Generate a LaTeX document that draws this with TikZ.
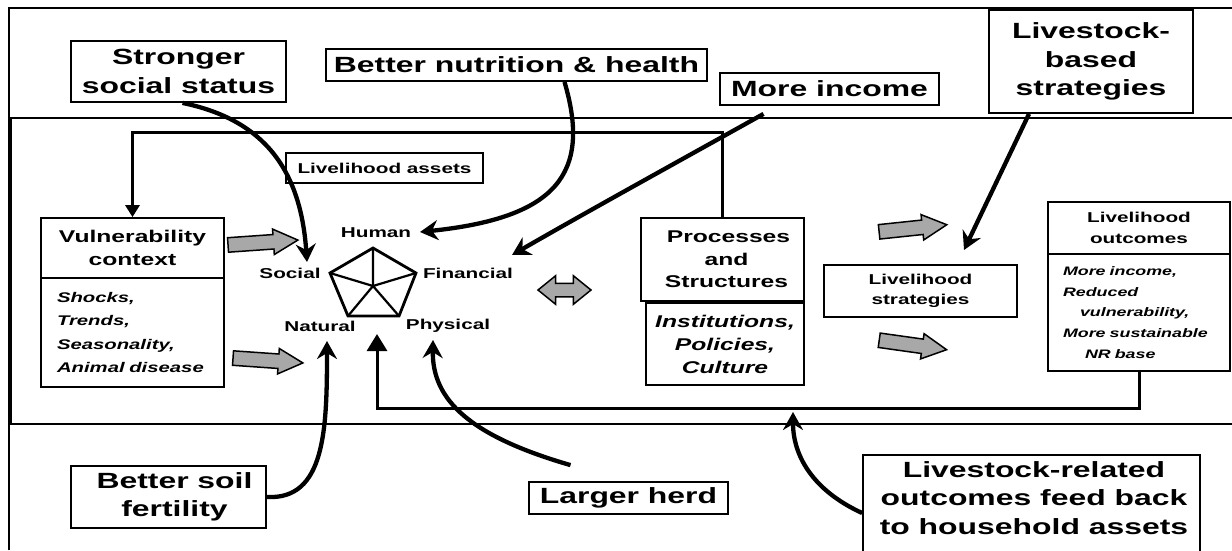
\documentclass[tikz,border=0pt]{standalone}
\usepackage{fontspec}
\setmainfont{Liberation Sans}[FakeStretch=1.45]
\usetikzlibrary{arrows.meta,shapes.arrows}
\definecolor{blockgray}{HTML}{A8A8A8}
\tikzset{
  fbig/.style={font=\fontsize{22}{28.5}\selectfont\bfseries},
  fmed/.style={font=\fontsize{17}{22.5}\selectfont\bfseries},
  fsml/.style={font=\fontsize{14.3}{20.5}\selectfont\bfseries},
  box/.style={draw, line width=1.8pt, inner sep=0pt, align=center},
  lbl/.style={inner sep=0pt, fsml},
  curvearrow/.style={line width=4.3pt, -{Stealth[length=18pt,width=20pt,inset=6pt]}},
  looparrow/.style={line width=3pt, -{Triangle[length=12pt,width=14pt]}},
  feedarrow/.style={line width=3pt, -{Triangle[length=17pt,width=20pt]}},
  blockarrow/.style={single arrow, draw, line width=1.5pt, fill=blockgray, inner sep=6.5pt, minimum width=24pt, single arrow head extend=5.5pt, single arrow tip angle=55, minimum height=70pt},
  dblarrow/.style={double arrow, draw, line width=1.5pt, fill=blockgray, inner sep=6pt, minimum width=27pt, double arrow head extend=7.5pt, double arrow tip angle=78, minimum height=53pt},
  frame/.style={line width=1.5pt},
}
\begin{document}
\begin{tikzpicture}[x=1pt,y=-1pt]
\useasboundingbox (0,0) rectangle (1232,550);
\clip (0,0) rectangle (1232,550);
\fill[white] (0,0) rectangle (1232,550);
% frame
\draw[frame] (9,550) -- (9,8) -- (1240,8);
\draw[frame] (9,118) -- (1240,118);
\draw[line width=2.2pt] (11,118) -- (11,424) -- (1240,424);
\draw[frame] (9,424) -- (11,424);

% top boxes
\node[box, fbig, minimum width=215pt, minimum height=61pt] (ss) at (178.5,71.5) {Stronger\\social status};
\node[box, fbig, minimum width=381pt, minimum height=32pt] (nh) at (516.5,65) {Better nutrition \& health};
\node[box, fbig, minimum width=219pt, minimum height=32pt] (mi) at (829.5,89) {More income};
\node[box, fbig, minimum width=204pt, minimum height=103pt] (lbs) at (1091,61.5) {Livestock-\\based\\strategies};

% middle
\node[box, fsml, minimum width=197pt, minimum height=30pt] (la) at (384.5,168) {Livelihood assets};
\node[box, fmed, minimum width=183pt, minimum height=60pt] (vch) at (132.5,248) {Vulnerability\\context};
\node[box, font=\fontsize{14}{23.5}\selectfont\bfseries\itshape, minimum width=183pt, minimum height=109pt, text width=151pt, align=left] (vcb) at (132.5,332.5) {Shocks,\\Trends,\\Seasonality,\\Animal disease};
\node[box, fmed, minimum width=163pt, minimum height=83pt] (ps) at (722.5,259.5) {\hspace*{12pt}Processes\\\hspace*{8pt}and\\\hspace*{8pt}Structures};
\node[box, font=\fontsize{17}{23}\selectfont\bfseries\itshape, minimum width=158pt, minimum height=82pt] (ipc) at (725,344) {Institutions,\\Policies,\\Culture};
\node[box, fsml, minimum width=193pt, minimum height=52pt] (ls) at (920.5,291) {Livelihood\\strategies};
\node[box, fsml, minimum width=182pt, minimum height=52pt] (loh) at (1139,228) {Livelihood\\outcomes};
\node[box, font=\fontsize{12.3}{20.7}\selectfont\bfseries\itshape, minimum width=182pt, minimum height=117pt, text width=152pt, align=left] (lob) at (1139,312.5) {More income,\\Reduced\\\hspace*{17pt}vulnerability,\\More sustainable\\\hspace*{22pt}NR base};

% bottom boxes
\node[box, fbig, minimum width=195pt, minimum height=62pt] (bsf) at (168.5,497) {\hspace*{12pt}Better soil\\\hspace*{12pt}fertility};
\node[box, fbig, minimum width=199pt, minimum height=32pt] (lh) at (628.5,498) {Larger herd};
\node[box, minimum width=337pt, minimum height=140pt, anchor=north] (lro) at (1031.5,454) {};
\node[fbig, inner sep=0pt, align=center, anchor=north] (lrot) at (1034,461) {Livestock-related\\outcomes feed back\\to household assets};

% asset labels
\node[lbl] (human) at (376,233) {Human};
\node[lbl] (social) at (290,273) {Social};
\node[lbl] (financial) at (468,273) {Financial};
\node[lbl] (natural) at (320,326) {Natural};
\node[lbl] (physical) at (448,326) {Physical};

% pentagon
\coordinate (p1) at (373,248);
\coordinate (p2) at (416,273);
\coordinate (p3) at (399,316);
\coordinate (p4) at (348,316);
\coordinate (p5) at (330,273);
\coordinate (pc) at (373,286);
\draw[line width=2.8pt, line join=miter] (p1) -- (p2) -- (p3) -- (p4) -- (p5) -- cycle;
\draw[line width=2.2pt] (pc) -- (p1) (pc) -- (p2) (pc) -- (p3) (pc) -- (p4) (pc) -- (p5);

% block arrows
\node[blockarrow, rotate=4] (ba1) at (256,243) {};
\node[blockarrow, rotate=-4] (ba2) at (261,360) {};
\node[blockarrow, rotate=6, minimum height=68pt] (ba3) at (906,229) {};
\node[blockarrow, rotate=-8, minimum height=68pt] (ba4) at (906,344) {};
\node[dblarrow] (dba) at (564.5,290) {};

% targets
\coordinate (tSocial) at (307,262);
\coordinate (tHuman) at (420,232);
\coordinate (tFin) at (512,255);
\coordinate (tStrat) at (964,250);
\coordinate (tNat) at (327,341);
\coordinate (tPhys) at (433,340);
\coordinate (tAssets) at (377,334);
\coordinate (fbcorner) at (377,408);
\coordinate (tFeed) at (793,412);

% connectors
\draw[looparrow] (ps.north) -- ++(0,-85) -| (vch.north);
\draw[feedarrow] (lob.south) |- (fbcorner) -- (tAssets);
\draw[curvearrow] ([xshift=4pt]ss.south) .. controls (255,118) and (300,160) .. (tSocial);
\draw[curvearrow] ([xshift=48pt]nh.south) .. controls (592,175) and (555,218) .. (tHuman);
\draw[curvearrow] ([xshift=-66pt,yshift=-8pt]mi.south) .. controls (690,155) and (590,210) .. (tFin);
\draw[curvearrow] ([xshift=-62pt]lbs.south) -- (tStrat);
\draw[curvearrow] (bsf.east) .. controls (325,500) and (327,430) .. (tNat);
\draw[curvearrow] ([xshift=-58pt,yshift=16pt]lh.north) .. controls (470,436) and (432,400) .. (tPhys);
\draw[curvearrow] ([yshift=-59pt]lro.north west) .. controls (812,490) and (793,455) .. (tFeed);
\end{tikzpicture}
\end{document}
